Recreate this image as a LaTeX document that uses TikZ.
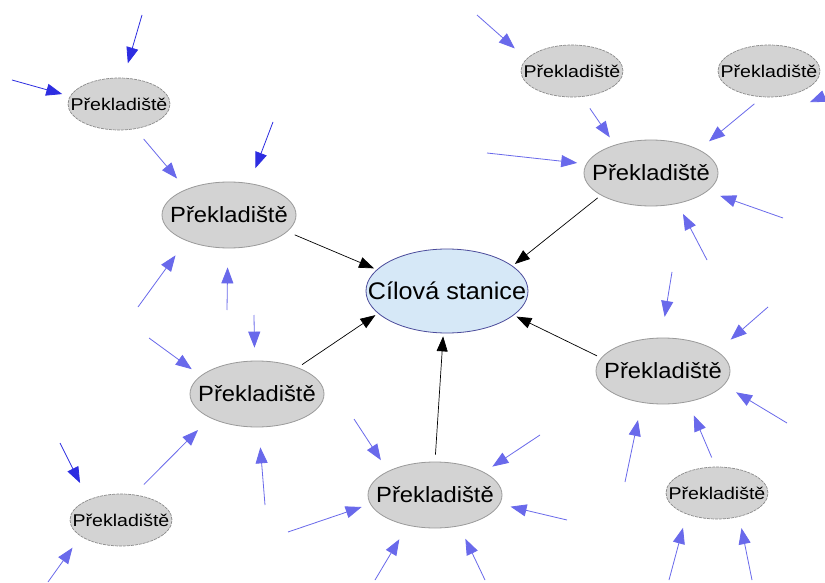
\documentclass[tikz,border=0pt]{standalone}
\usepackage{fontspec}
\usepackage{graphicx}
\setmainfont{Liberation Sans}
\usetikzlibrary{shapes.geometric,arrows.meta}
\definecolor{cfill}{HTML}{D6E8F7}
\definecolor{cborder}{HTML}{4B4B9B}
\definecolor{nfill}{HTML}{D3D3D3}
\definecolor{nborder}{HTML}{9A9A9A}
\definecolor{sborder}{HTML}{8A8A8A}
\definecolor{dblue}{RGB}{45,45,225}
\definecolor{lblue}{RGB}{105,105,235}
\newcommand\PBig{\scalebox{1.08}[1]{Překladiště}}
\newcommand\PSmall{\scalebox{1.15}[1]{Překladiště}}
\newcommand\CTxt{\scalebox{1.05}[1]{Cílová stanice}}
\begin{document}
\begin{tikzpicture}[x=1pt,y=-1pt,
  centernode/.style={ellipse, draw=cborder, fill=cfill, line width=0.8pt,
    minimum width=162pt, minimum height=84pt, inner sep=0pt},
  bignode/.style={ellipse, draw=nborder, fill=nfill, line width=0.8pt,
    minimum width=134pt, minimum height=66pt, inner sep=0pt},
  smallnode/.style={ellipse, draw=sborder, fill=nfill, line width=0.7pt,
    dash pattern=on 3pt off 1pt, minimum width=102pt, minimum height=52pt, inner sep=0pt},
  ctext/.style={font=\fontsize{24}{28}\selectfont, inner sep=0pt},
  btext/.style={font=\fontsize{22}{26}\selectfont, inner sep=0pt},
  stext/.style={font=\fontsize{17}{20}\selectfont, inner sep=0pt},
  blk/.style={draw=black, line width=0.7pt, -{Triangle[length=15pt,width=11pt]}},
  dbl/.style={draw=dblue, line width=0.8pt, -{Triangle[length=16pt,width=12pt]}},
  lbl/.style={draw=lblue, line width=0.8pt, -{Triangle[length=16pt,width=12pt]}}
]
\useasboundingbox (0,0) rectangle (825,583);
\fill[white] (0,0) rectangle (825,583);

% nodes
\node[centernode, label={[ctext]center:\CTxt}] (C) at (447,291) {};
\node[bignode, label={[btext]center:\PBig}] (U1) at (229,215) {};
\node[bignode, label={[btext]center:\PBig}] (U2) at (257,394) {};
\node[bignode, label={[btext]center:\PBig}] (U3) at (435,495) {};
\node[bignode, label={[btext]center:\PBig}] (U4) at (663,371) {};
\node[bignode, label={[btext]center:\PBig}] (U5) at (651,173) {};
\node[smallnode, label={[stext]center:\PSmall}] (s1) at (119,104) {};
\node[smallnode, label={[stext]center:\PSmall}] (s2) at (572,71) {};
\node[smallnode, label={[stext]center:\PSmall}] (s3) at (769,71) {};
\node[smallnode, label={[stext]center:\PSmall}] (s4) at (121,520) {};
\node[smallnode, label={[stext]center:\PSmall}] (s5) at (717,493) {};

% free ends
\coordinate (f1) at (142,15);
\coordinate (f2) at (12,80);
\coordinate (f3) at (273,122);
\coordinate (f4) at (138,307);
\coordinate (f5) at (227,310);
\coordinate (f6) at (254,315);
\coordinate (f7) at (149,338);
\coordinate (f8) at (265,505);
\coordinate (f9) at (60,443);
\coordinate (f10) at (48,582);
\coordinate (f11) at (288,532);
\coordinate (f12) at (354,419);
\coordinate (f13) at (540,435);
\coordinate (f14) at (567,520);
\coordinate (f15) at (375,580);
\coordinate (f16) at (485,580);
\coordinate (f17) at (477,15);
\coordinate (f18) at (825,96);
\coordinate (f19) at (487,153);
\coordinate (f20) at (783,218);
\coordinate (f21) at (707,260);
\coordinate (f22) at (672,272);
\coordinate (f23) at (768,307);
\coordinate (f24) at (787,423);
\coordinate (f25) at (625,482);
\coordinate (f26) at (669,580);
\coordinate (f27) at (752,580);

% black connectors to the target station
\draw[blk, shorten <=8pt, shorten >=3pt] (U1.-16) -- (C.163);
\draw[blk, shorten <=4pt, shorten >=3pt] (U5.204) -- (C.21);
\draw[blk, shorten <=5pt, shorten >=3pt] (U2.33) -- (C.198);
\draw[blk, shorten <=7pt, shorten >=3pt] (U3.90) -- (C.265);
\draw[blk, shorten <=4.6pt, shorten >=3pt] (U4.168) -- (C.-20);

% blue connectors
\draw[dbl, shorten >=15pt] (f1) -- (s1.80);
\draw[dbl, shorten >=8pt] (f2) -- (s1.171);
\draw[lbl, shorten <=13pt, shorten >=14pt] (s1.-57) -- (U1.149);
\draw[dbl, shorten >=16pt] (f3) -- (U1.57);
\draw[lbl, shorten >=18pt] (f4) -- (U1.211);
\draw[lbl, shorten >=19pt] (f5) -- (U1.268);

\draw[lbl, shorten >=13pt] (f6) -- (U2.94);
\draw[lbl, shorten >=11pt] (f7) -- (U2.162);
\draw[lbl, shorten <=14pt, shorten >=17pt] (s4.63) -- (U2.207);
\draw[lbl, shorten >=20pt] (f8) -- (U2.273);

\draw[dbl, shorten >=18.6pt] (f9) -- (s4.148);
\draw[lbl, shorten >=14pt] (f10) -- (s4.202);

\draw[lbl, shorten >=9pt] (f11) -- (U3.188);
\draw[lbl, shorten >=13pt] (f12) -- (U3.153);
\draw[lbl, shorten >=10pt] (f13) -- (U3.25);
\draw[lbl, shorten >=11pt] (f14) -- (U3.-8);
\draw[lbl, shorten >=16pt] (f15) -- (U3.228);
\draw[lbl, shorten >=14pt] (f16) -- (U3.-52);

\draw[lbl, shorten >=15.6pt] (f17) -- (s2.165);
\draw[lbl, shorten <=14pt, shorten >=9pt] (s2.-69) -- (U5.142);
\draw[lbl, shorten <=10.5pt, shorten >=13pt] (s3.256) -- (U5.26);
\draw[lbl, shorten >=122pt] (f18) -- (U5.28);
\draw[lbl, shorten >=9pt] (f19) -- (U5.172);
\draw[lbl, shorten >=13.5pt] (f20) -- (U5.-18);
\draw[lbl, shorten >=11.5pt] (f21) -- (U5.-49);

\draw[lbl, shorten >=21pt] (f22) -- (U4.93);
\draw[lbl, shorten >=17.7pt] (f23) -- (U4.20);
\draw[lbl, shorten >=14pt] (f24) -- (U4.-13);
\draw[lbl, shorten >=17.7pt] (f25) -- (U4.236);
\draw[lbl, shorten <=10pt, shorten >=14.5pt] (s5.93) -- (U4.-51);

\draw[lbl, shorten >=14pt] (f26) -- (s5.215);
\draw[lbl, shorten >=11.6pt] (f27) -- (s5.-47);
\end{tikzpicture}
\end{document}
